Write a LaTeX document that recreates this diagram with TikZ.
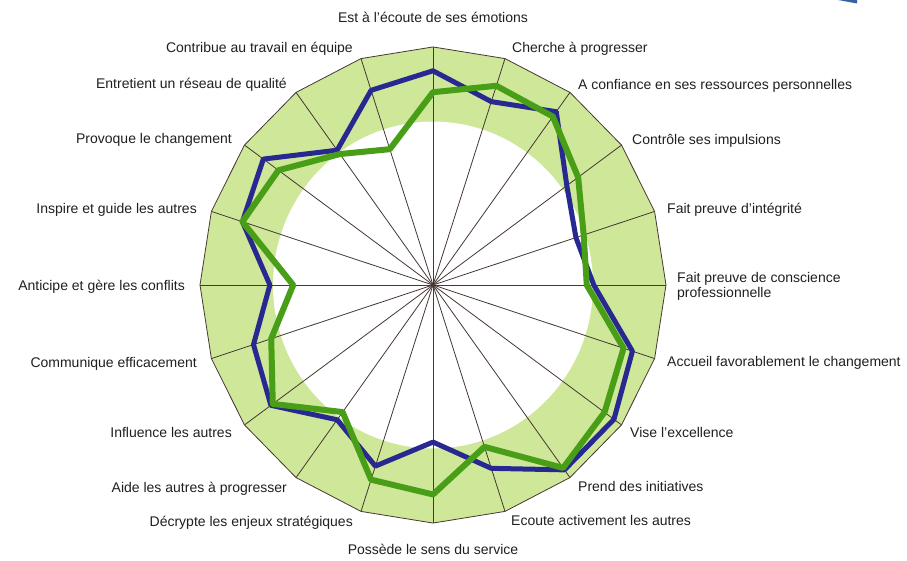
\documentclass[tikz,border=0pt]{standalone}
\usepackage{fontspec}
\setmainfont{Liberation Sans}
\usetikzlibrary{positioning}
\definecolor{bandgreen}{RGB}{206, 231, 153}
\definecolor{selfblue}{RGB}{40, 40, 145}
\definecolor{peergreen}{RGB}{72, 158, 22}
\definecolor{spokegray}{RGB}{70, 55, 50}
\definecolor{cornerblue}{RGB}{52, 100, 160}

\begin{document}
\begin{tikzpicture}[x=1pt, y=1pt,
  axislbl/.style={font=\fontsize{14}{15}\selectfont, inner sep=0pt, text height=13pt, text depth=2pt, text=black!88},
  spoke/.style={draw=spokegray, line width=0.8pt},
  scoreline/.style={line width=#1, line join=round}
]
  \useasboundingbox (-433,-276) rectangle (474,285);
  \fill[cornerblue] (405,285) -- (424,285) -- (424,281.5) -- cycle;

  \begin{scope}[yscale=1.0215]
    % green band and white core
    \fill[bandgreen] (90:233) \foreach \i in {1,...,19} { -- (90-18*\i:233) } -- cycle;
    \fill[white] (0,0) circle (160);
    \foreach \i in {0,...,19} {
      \coordinate (v\i) at (90-18*\i:233);
      \draw[spoke] (0,0) -- (v\i);
    }
    \draw[spoke] (v0) \foreach \i in {1,...,19} { -- (v\i) } -- cycle;
    % scores
    \draw[selfblue, scoreline=5pt] (90:233*0.90)
      \foreach \f [count=\i] in {0.81,0.90,0.71,0.645,0.69,0.90,0.96,0.96,0.81,0.66,0.80,0.70,0.86,0.81,0.70,0.86,0.90,0.70,0.86}
      { -- (90-18*\i:233*\f) } -- cycle;
    \draw[peergreen, scoreline=6pt] (90:233*0.81)
      \foreach \f [count=\i] in {0.88,0.875,0.77,0.68,0.66,0.86,0.91,0.95,0.715,0.88,0.86,0.66,0.85,0.73,0.60,0.86,0.82,0.68,0.60}
      { -- (90-18*\i:233*\f) } -- cycle;
  \end{scope}

  % axis labels
  \node[axislbl] (l0) at (0,268) {Est à l'écoute de ses émotions};
  \node[axislbl, anchor=west] (l1) at (79,238) {Cherche à progresser};
  \node[axislbl, anchor=west] (l2) at (145,201) {A confiance en ses ressources personnelles};
  \node[axislbl, anchor=west] (l3) at (199,146) {Contrôle ses impulsions};
  \node[axislbl, anchor=west] (l4) at (234,77) {Fait preuve d'intégrité};
  \node[axislbl, anchor=west, align=left] (l5) at (244,-7) {Fait preuve de conscience\\professionnelle};
  \node[axislbl, anchor=west] (l6) at (234,-76) {Accueil favorablement le changement};
  \node[axislbl, anchor=west] (l7) at (197,-147) {Vise l'excellence};
  \node[axislbl, anchor=west] (l8) at (145,-201) {Prend des initiatives};
  \node[axislbl, anchor=west] (l9) at (78,-235) {Ecoute activement les autres};
  \node[axislbl] (l10) at (0,-264) {Possède le sens du service};
  \node[axislbl, anchor=east] (l11) at (-80,-236) {Décrypte les enjeux stratégiques};
  \node[axislbl, anchor=east] (l12) at (-146,-202) {Aide les autres à progresser};
  \node[axislbl, anchor=east] (l13) at (-201,-147) {Influence les autres};
  \node[axislbl, anchor=east] (l14) at (-236,-77) {Communique efficacement};
  \node[axislbl, anchor=east] (l15) at (-248,0) {Anticipe et gère les conflits};
  \node[axislbl, anchor=east] (l16) at (-236,77) {Inspire et guide les autres};
  \node[axislbl, anchor=east] (l17) at (-201,147) {Provoque le changement};
  \node[axislbl, anchor=east] (l18) at (-146,202) {Entretient un réseau de qualité};
  \node[axislbl, anchor=east] (l19) at (-80,238) {Contribue au travail en équipe};
\end{tikzpicture}
\end{document}
